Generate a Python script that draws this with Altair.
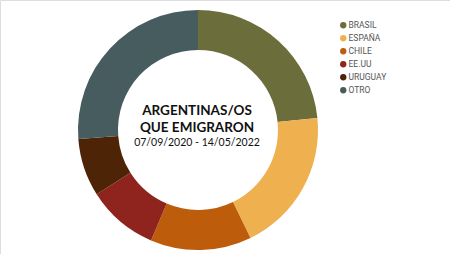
import altair as alt
import pandas as pd

paises = ["BRASIL", "ESPAÑA", "CHILE", "EE.UU", "URUGUAY", "OTRO"]
porcentajes = [23.4, 19.4, 13.6, 9.6, 7.8, 26.2]
colores = ["#6b6d3b", "#efb04f", "#bd5c0a", "#8e241d", "#4d2506", "#465c5e"]
titulo = ["ARGENTINAS/OS", "QUE EMIGRARON"]
fechas = "07/09/2020 - 14/05/2022"

df = pd.DataFrame({"pais": paises, "valor": porcentajes, "orden": list(range(len(paises)))})

arcs = alt.Chart(df).mark_arc(innerRadius=80, outerRadius=120, stroke=None).encode(
    theta=alt.Theta("valor:Q", stack=True),
    order=alt.Order("orden:Q"),
    color=alt.Color(
        "pais:N",
        scale=alt.Scale(domain=paises, range=colores),
        legend=alt.Legend(
            title=None,
            orient="none",
            legendX=339,
            legendY=21,
            symbolType="circle",
            symbolSize=40,
            labelFont="Roboto",
            labelFontSize=8.5,
            labelFontWeight="normal",
            labelColor="#555555",
            rowPadding=4,
            labelOffset=1,
        ),
    ),
    x=alt.value(198),
    y=alt.value(130),
)

df_t = pd.DataFrame({"t": titulo, "yy": [110.5, 128]})
t1 = alt.Chart(df_t).mark_text(font="Lato", fontSize=13.5, fontWeight="bold", color="#111111", baseline="middle", align="center").encode(
    text="t:N", x=alt.value(197), y=alt.Y("yy:Q", scale=None)
)
t2 = alt.Chart(pd.DataFrame({"t": [fechas]})).mark_text(font="Lato", fontSize=10.5, color="#111111", baseline="middle", align="center").encode(
    text="t:N", x=alt.value(197), y=alt.value(143)
)

chart = alt.layer(arcs, t1, t2).properties(
    width=450, height=254, padding=0, autosize=alt.AutoSizeParams(type="none")
).configure_view(stroke=None).configure(background="white")

chart.save("out.html", embed_options={"renderer": "svg", "actions": False})
